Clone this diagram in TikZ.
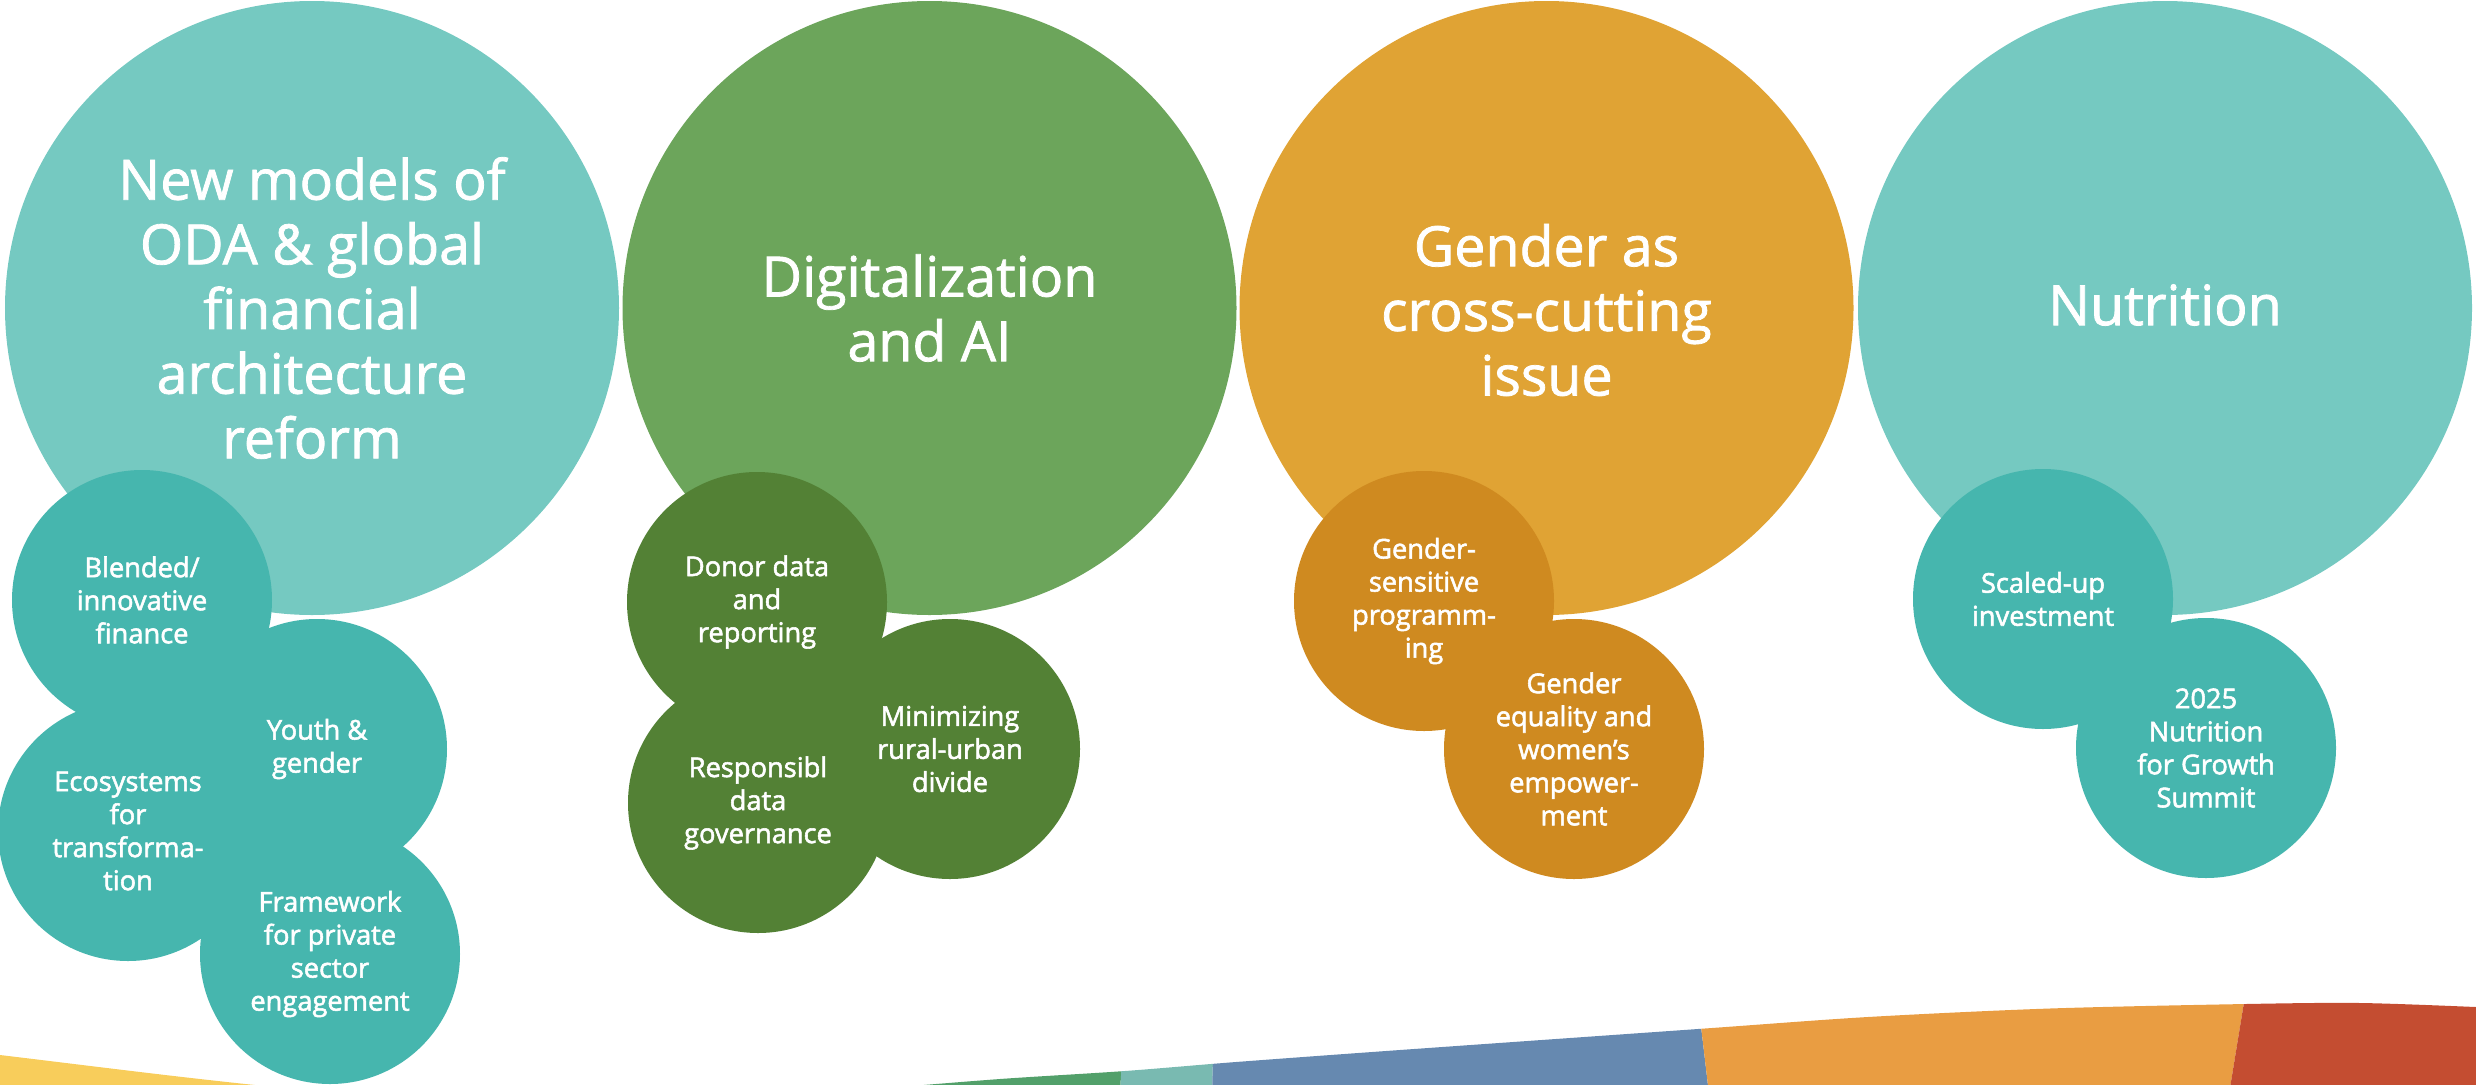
\documentclass[tikz,border=0pt]{standalone}
\usepackage{fontspec}
\setmainfont{Open Sans}
\newfontfamily\semib{Open Sans}[FakeBold=2]
\newfontfamily\titlefont{Open Sans}[FakeBold=1.4]
\usetikzlibrary{calc}

\definecolor{tealbig}{HTML}{75C9C1}
\definecolor{tealsmall}{HTML}{46B6AE}
\definecolor{greenbig}{HTML}{6CA55B}
\definecolor{greensmall}{HTML}{538135}
\definecolor{orangebig}{HTML}{E0A334}
\definecolor{orangesmall}{HTML}{CF8A20}
\definecolor{bandyellow}{HTML}{F8CD5B}
\definecolor{bandgreen}{HTML}{52A06A}
\definecolor{bandteal}{HTML}{79BAB1}
\definecolor{bandblue}{HTML}{6689B0}
\definecolor{bandorange}{HTML}{E99D42}
\definecolor{bandred}{HTML}{C44D31}

\tikzset{
  bigdisc/.style={circle, minimum size=6.14cm, inner sep=0pt, draw=none},
  smalldisc/.style={circle, minimum size=2.60cm, inner sep=0pt, draw=none},
  bigtext/.style={text=white, align=center, inner sep=0pt,
    font=\titlefont\fontsize{15.8}{18.4}\selectfont},
  smalltext/.style={text=white, align=center, inner sep=0pt,
    font=\semib\fontsize{7.75}{9.4}\selectfont},
}

\begin{document}
\begin{tikzpicture}
\useasboundingbox (0,0) rectangle (24.76,10.84);

% coloured band along the bottom edge
\begin{scope}
  \clip (0,-0.1) -- (0,0.29) .. controls (1.0,0.17) and (2.0,0.04) .. (2.95,-0.05) -- cycle;
  \fill[bandyellow] (0,-0.1) rectangle (3.2,0.4);
\end{scope}
\begin{scope}
  \clip plot[smooth] coordinates {(8.75,-0.05) (10.0,0.05) (11.25,0.13) (12.36,0.22)
      (14.0,0.34) (16.98,0.55) (18.68,0.67) (20.5,0.755) (22.46,0.80) (23.6,0.81)
      (24.76,0.77) (24.9,0.76)} -- (24.9,-0.1) -- cycle;
  \fill[bandgreen]  (8.5,-0.1) -- (8.5,1) -- (11.26,1) -- (11.20,-0.1) -- cycle;
  \fill[bandteal]   (11.26,1) -- (11.20,-0.1) -- (12.12,-0.1) -- (12.15,1) -- cycle;
  \fill[bandblue]   (12.15,1) -- (12.12,-0.1) -- (17.09,-0.1) -- (16.96,1) -- cycle;
  \fill[bandorange] (16.96,1) -- (17.09,-0.1) -- (22.29,-0.1) -- (22.47,1) -- cycle;
  \fill[bandred]    (22.47,1) -- (22.29,-0.1) -- (25,-0.1) -- (25,1) -- cycle;
\end{scope}

% main themes
\node[bigdisc, fill=tealbig]   (oda)  at (3.12,7.76)  {};
\node[bigdisc, fill=greenbig]  (dig)  at (9.295,7.76) {};
\node[bigdisc, fill=orangebig] (gen)  at (15.465,7.76) {};
\node[bigdisc, fill=tealbig]   (nut)  at (21.65,7.76) {};

\node[bigtext] (odat) at (oda) {New models of\\ODA \& global\\financial\\architecture\\reform};
\node[bigtext] (digt) at ($(dig)+(0,0)$) {Digitalization\\and AI};
\node[bigtext] (gent) at ($(gen)+(0,-0.02)$) {Gender as\\cross-cutting\\issue};
\node[bigtext] (nutt) at ($(nut)+(0,0.03)$) {Nutrition};

% sub-topic discs
\node[smalldisc, fill=tealsmall] (blend) at (1.42,4.84) {};
\node[smalldisc, fill=tealsmall] (eco)   at (1.28,2.53) {};
\node[smalldisc, fill=tealsmall] (youth) at (3.17,3.35) {};
\node[smalldisc, fill=tealsmall] (priv)  at (3.30,1.30) {};

\node[smalldisc, fill=greensmall] (donor) at (7.57,4.82) {};
\node[smalldisc, fill=greensmall] (resp)  at (7.58,2.81) {};
\node[smalldisc, fill=greensmall] (rural) at (9.50,3.35) {};

\node[smalldisc, fill=orangesmall] (gsp) at (14.24,4.83) {};
\node[smalldisc, fill=orangesmall] (gew) at (15.74,3.35) {};

\node[smalldisc, fill=tealsmall] (scale) at (20.43,4.85) {};
\node[smalldisc, fill=tealsmall] (summit) at (22.06,3.36) {};

% sub-topic labels
\node[smalltext] (blendt) at (blend) {Blended/\\innovative\\finance};
\node[smalltext] (ecot)   at (eco)   {Ecosystems\\for\\transforma-\\tion};
\node[smalltext] (youtht) at (youth) {Youth \&\\gender};
\node[smalltext] (privt)  at (priv)  {Framework\\for private\\sector\\engagement};

\node[smalltext] (donort) at (donor) {Donor data\\and\\reporting};
\node[smalltext] (respt)  at (resp)  {Responsibl\\data\\governance};
\node[smalltext] (ruralt) at (rural) {Minimizing\\rural-urban\\divide};

\node[smalltext] (gspt) at (gsp) {Gender-\\sensitive\\programm-\\ing};
\node[smalltext] (gewt) at (gew) {Gender\\equality and\\women’s\\empower-\\ment};

\node[smalltext] (scalet)  at (scale)  {Scaled-up\\investment};
\node[smalltext] (summitt) at (summit) {2025\\Nutrition\\for Growth\\Summit};
\end{tikzpicture}
\end{document}
